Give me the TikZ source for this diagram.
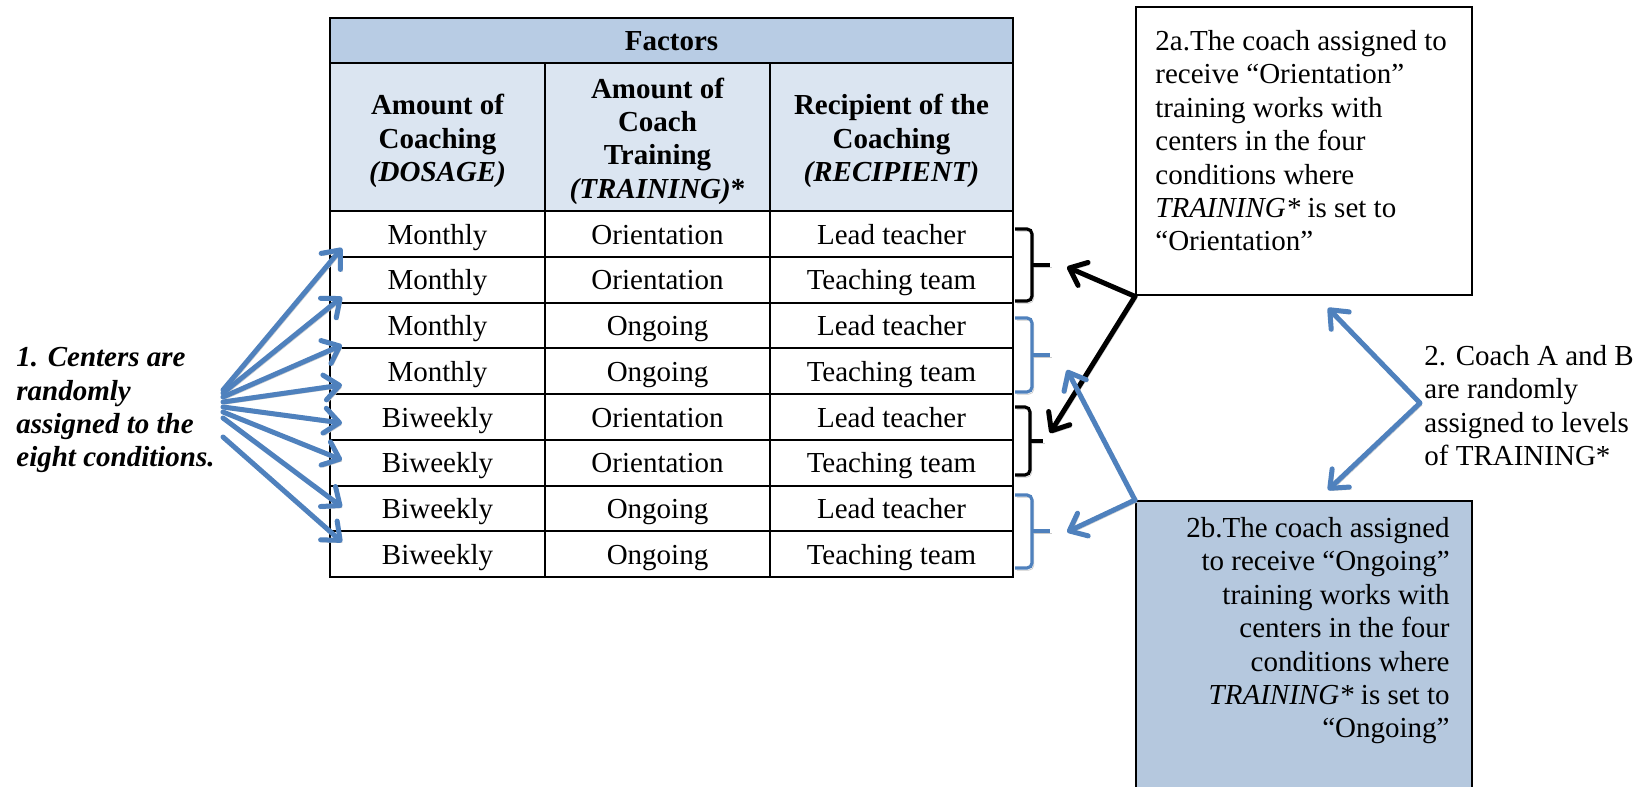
\documentclass[tikz,border=0pt]{standalone}
\usepackage{fontspec}
\setmainfont{Liberation Serif}
\usetikzlibrary{arrows.meta}
\definecolor{accblue}{HTML}{4F81BD}
\definecolor{hdrdark}{HTML}{B8CCE4}
\definecolor{hdrlight}{HTML}{DBE5F1}
\definecolor{boxfill}{HTML}{B5C8DE}
\newcommand\diagfont{\fontsize{14.5}{16.7}\selectfont}
\tikzset{
  cell/.style={draw, line width=1pt, inner sep=0pt, minimum height=22.875pt,
    text height=11.6pt, text depth=1.4pt, font=\diagfont},
  colA/.style={minimum width=107.5pt},
  colB/.style={minimum width=112.5pt},
  colC/.style={minimum width=121.5pt},
  headcell/.style={draw, line width=1pt, fill=hdrlight, inner sep=0pt,
    minimum height=74pt, align=center, font=\diagfont\bfseries},
  headtext/.style={inner sep=0pt, align=center, font=\diagfont\bfseries},
  plaintext/.style={inner sep=0pt, font=\diagfont},
  infobox/.style={draw, line width=1.2pt, inner sep=0pt, minimum width=168pt,
    anchor=north west},
  shade/.style={preaction={draw=black!20, transform canvas={shift={(0.9pt,-1.1pt)}}}},
  barb/.tip={Straight Barb[length=7.5pt,width=12.5pt,line cap=round,line join=round]},
  fatarrow/.style={line width=2.5pt, line cap=round, line join=round, -barb, shade},
  bluearrow/.style={fatarrow, draw=accblue},
  blackarrow/.style={fatarrow, draw=black},
  bracket/.style={line width=1.6pt, rounded corners=2.5pt, shade},
}
\begin{document}
\begin{tikzpicture}[x=0.5pt, y=-0.5pt]
  \clip (0,0) rectangle (1640,787);
  \fill[white] (0,0) rectangle (1640,787);

  % table heading
  \node[draw, line width=1pt, fill=hdrdark, inner sep=0pt, minimum width=341.5pt,
    minimum height=22.2pt, text height=11.6pt, text depth=1.4pt,
    font=\diagfont\bfseries] (factors) at (671.5,40.5) {Factors};
  \node[headcell, colA] (hA) at (437.5,137) {};
  \node[headcell, colB] (hB) at (657.5,137) {};
  \node[headcell, colC] (hC) at (891.5,137) {};
  \node[headtext] (hAtext) at (437.5,141) {Amount of\\Coaching\\\textit{(DOSAGE)}};
  \node[headtext] (hBtext) at (657.5,141) {Amount of\\Coach\\Training\\\textit{(TRAINING)}*};
  \node[headtext] (hCtext) at (891.5,141) {Recipient of the\\Coaching\\\textit{(RECIPIENT)}};

  % the eight conditions
  \foreach \i/\a/\b/\c in {1/Monthly/Orientation/Lead teacher,
                           2/Monthly/Orientation/Teaching team,
                           3/Monthly/Ongoing/Lead teacher,
                           4/Monthly/Ongoing/Teaching team,
                           5/Biweekly/Orientation/Lead teacher,
                           6/Biweekly/Orientation/Teaching team,
                           7/Biweekly/Ongoing/Lead teacher,
                           8/Biweekly/Ongoing/Teaching team} {
    \node[cell, colA] (dose\i) at (437.5,{211+45.75*(\i-0.5)}) {\a};
    \node[cell, colB] (train\i) at (657.5,{211+45.75*(\i-0.5)}) {\b};
    \node[cell, colC] (recip\i) at (891.5,{211+45.75*(\i-0.5)}) {\c};
  }

  % step 1: centers to conditions
  \node[plaintext, anchor=north west, align=left, font=\diagfont\bfseries\itshape]
    (step1) at (16,347) {1. Centers are\\randomly\\assigned to the\\eight conditions.};
  \foreach \i/\sy/\ey in {1/390/248, 2/393/297, 3/397/345, 4/402/385,
                          5/407/423, 6/412/460, 7/418/507, 8/437/542} {
    \coordinate (fs\i) at (223,\sy);
    \coordinate (fe\i) at (342,\ey);
    \draw[bluearrow] (fs\i) -- (fe\i);
  }

  % brackets grouping pairs of conditions
  \coordinate (k1) at (1050,265);
  \coordinate (k2) at (1050,355);
  \coordinate (k3) at (1043,441);
  \coordinate (k4) at (1050,531);
  \draw[bracket, black] (1015,229) -- (1032,229) -- (1032,301) -- (1015,301);
  \draw[bracket, black] (1032,265) -- (k1);
  \draw[bracket, accblue] (1015,318) -- (1032,318) -- (1032,392) -- (1015,392);
  \draw[bracket, accblue] (1032,355) -- (k2);
  \draw[bracket, black] (1015,407) -- (1030,407) -- (1030,475) -- (1015,475);
  \draw[bracket, black] (1030,441) -- (k3);
  \draw[bracket, accblue] (1015,495) -- (1032,495) -- (1032,568) -- (1015,568);
  \draw[bracket, accblue] (1032,531) -- (k4);

  % step 2a box
  \node[infobox, minimum height=144pt] (box2a) at (1135,6) {};
  \node[plaintext, anchor=north west, align=left] (txt2a) at (1155,30)
    {2a.The coach assigned to\\receive “Orientation”\\training works with\\centers in the four\\conditions where\\\textit{TRAINING*} is set to\\“Orientation”};

  % step 2b box
  \node[infobox, fill=boxfill, minimum height=160pt] (box2b) at (1135,500) {};
  \node[plaintext, anchor=north east, align=right] (txt2b) at (1450,517)
    {2b.The coach assigned\\to receive “Ongoing”\\training works with\\centers in the four\\conditions where\\\textit{TRAINING*} is set to\\“Ongoing”};

  % step 2: coaches to training levels
  \node[plaintext, anchor=north west, align=left] (step2) at (1424,345)
    {2. Coach A and B\\are randomly\\assigned to levels\\of TRAINING*};
  \coordinate (fork) at (1420,403);
  \coordinate (upper) at (1328,308);
  \coordinate (lower) at (1328,490);
  \draw[bluearrow, barb-barb] (upper) -- (fork) -- (lower);

  % coaches to their conditions
  \coordinate (ka1) at (1067,267);
  \coordinate (ka2) at (1050,433);
  \coordinate (ba1) at (1067,370);
  \coordinate (ba2) at (1067,532);
  \draw[blackarrow] (box2a.south west) -- (ka1);
  \draw[blackarrow] (box2a.south west) -- (ka2);
  \draw[bluearrow] (box2b.north west) -- (ba1);
  \draw[bluearrow] (box2b.north west) -- (ba2);
\end{tikzpicture}
\end{document}
